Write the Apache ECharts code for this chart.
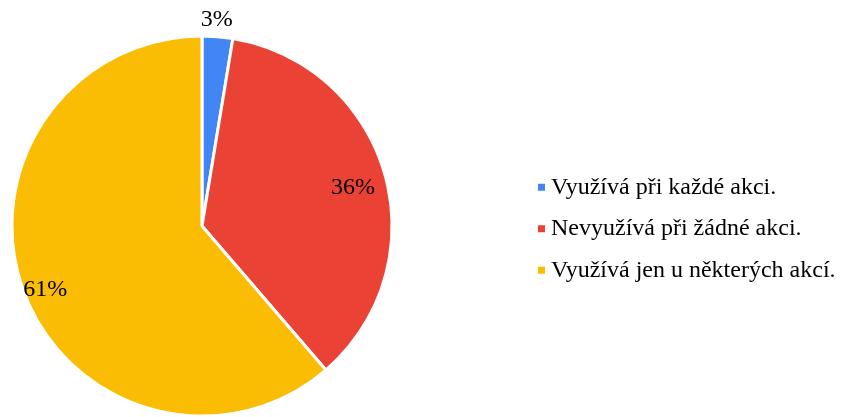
<!DOCTYPE html>
<html>
<head>
<meta charset="utf-8">
<script src="https://cdn.jsdelivr.net/npm/echarts@6/dist/echarts.min.js"></script>
<style>
html,body{margin:0;padding:0;background:#fff;}
#chart{width:841px;height:417px;}
</style>
</head>
<body>
<div id="chart"></div>
<script>
var categories = ['Využívá při každé akci.', 'Nevyužívá při žádné akci.', 'Využívá jen u některých akcí.'];
var values = [2.6, 36.1, 61.3];
var colors = ['#4285F4', '#EA4335', '#FBBC04'];

var font = 'Liberation Serif';
var center = [202, 226];

var pieData = [];
var labelData = [];
for (var i = 0; i < values.length; i++) {
    pieData.push({
        name: categories[i],
        value: values[i],
        itemStyle: { color: colors[i] },
        // small slice gets its label outside, above the pie
        label: { show: i === 0 }
    });
    labelData.push({
        name: categories[i],
        value: values[i],
        label: { show: i !== 0 }
    });
}

var myChart = echarts.init(document.getElementById('chart'));
myChart.setOption({
    animation: false,
    legend: {
        orient: 'vertical',
        left: 531,
        top: 170,
        itemWidth: 9,
        itemHeight: 9,
        itemGap: 17,
        icon: 'rect',
        data: categories,
        textStyle: {
            fontFamily: font,
            fontSize: 24,
            lineHeight: 24.5,
            color: '#000'
        }
    },
    series: [
        {
            name: 'main',
            type: 'pie',
            center: center,
            radius: 190,
            startAngle: 90,
            clockwise: true,
            silent: true,
            itemStyle: { borderColor: '#fff', borderWidth: 3 },
            label: {
                position: 'outside',
                fontFamily: font,
                fontSize: 24,
                color: '#000',
                formatter: function (p) { return Math.round(p.value) + '%'; }
            },
            labelLine: { show: false, length: 2, length2: 0 },
            labelLayout: function (p) {
                if (p.dataIndex === 0) return { dx: -22, dy: -15 };
            },
            data: pieData
        },
        {
            // invisible helper ring, only used to place the inner labels further out
            name: 'labels',
            type: 'pie',
            center: center,
            radius: 324,
            startAngle: 90,
            clockwise: true,
            silent: true,
            legendHoverLink: false,
            itemStyle: { color: 'rgba(0,0,0,0)' },
            label: {
                position: 'inside',
                fontFamily: font,
                fontSize: 24,
                color: '#000',
                formatter: function (p) { return Math.round(p.value) + '%'; }
            },
            labelLine: { show: false },
            labelLayout: function (p) {
                if (p.dataIndex === 1) return { dx: -8, dy: 6 };
                if (p.dataIndex === 2) return { dx: -2, dy: 6 };
            },
            data: labelData
        }
    ]
});
</script>
</body>
</html>
